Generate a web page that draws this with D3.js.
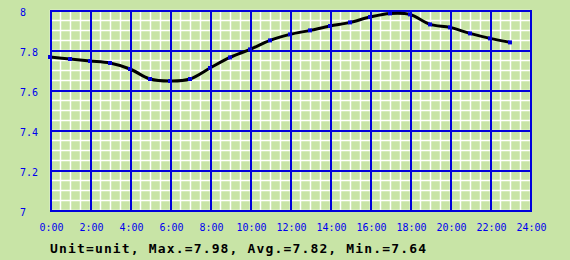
<!DOCTYPE html>
<html>
<head>
<meta charset="utf-8">
<script src="https://cdn.jsdelivr.net/npm/d3@7"></script>
<style>
  body { margin: 0; background: #c8e4a6; }
  svg { display: block; }
  .lbl { font-family: "DejaVu Sans Mono", monospace; font-size: 10px; fill: #0000ee; }
</style>
</head>
<body>
<svg id="chart" width="570" height="260"></svg>
<script>
// hourly readings, 0:00 .. 23:00
var hours = [0, 1, 2, 3, 4, 5, 6, 7, 8, 9, 10, 11, 12, 13, 14, 15, 16, 17, 18, 19, 20, 21, 22, 23];
var values = [7.765, 7.755, 7.745, 7.735, 7.705, 7.655, 7.645, 7.655, 7.71, 7.763, 7.803, 7.848, 7.878, 7.898,
              7.92, 7.938, 7.965, 7.983, 7.978, 7.928, 7.913, 7.883, 7.858, 7.838];
var xTicks = [0, 2, 4, 6, 8, 10, 12, 14, 16, 18, 20, 22, 24];
var yTicks = [7, 7.2, 7.4, 7.6, 7.8, 8];
var footer = "Unit=unit, Max.=7.98, Avg.=7.82, Min.=7.64";

var svg = d3.select("#chart");
var plotL = 50, plotR = 530, plotT = 10, plotB = 210;

var x = d3.scaleLinear().domain([0, 24]).range([plotL, plotR]);
var y = d3.scaleLinear().domain([7, 8]).range([plotB, plotT]);

// minor grid (white)
var g = svg.append("g");
g.selectAll(".vmin").data(d3.range(0, 24.01, 0.5)).enter().append("line")
    .attr("x1", function(d) { return Math.round(x(d)) + 0.5; })
    .attr("x2", function(d) { return Math.round(x(d)) + 0.5; })
    .attr("y1", plotT).attr("y2", plotB)
    .attr("stroke", "#fff").attr("stroke-width", 1.5);
g.selectAll(".hmin").data(d3.range(7, 8.001, 0.05)).enter().append("line")
    .attr("y1", function(d) { return Math.round(y(d)) + 0.5; })
    .attr("y2", function(d) { return Math.round(y(d)) + 0.5; })
    .attr("x1", plotL).attr("x2", plotR)
    .attr("stroke", "#fff").attr("stroke-width", 1.5);

// major grid (blue)
g.selectAll(".vmaj").data(xTicks).enter().append("line")
    .attr("x1", function(d) { return x(d) + 1; })
    .attr("x2", function(d) { return x(d) + 1; })
    .attr("y1", plotT).attr("y2", plotB + 2)
    .attr("stroke", "#0000dd").attr("stroke-width", 2);
g.selectAll(".hmaj").data(yTicks).enter().append("line")
    .attr("y1", function(d) { return y(d) + 1; })
    .attr("y2", function(d) { return y(d) + 1; })
    .attr("x1", plotL).attr("x2", plotR + 2)
    .attr("stroke", "#0000dd").attr("stroke-width", 2);

// y labels, left aligned
svg.selectAll(".ylbl").data(yTicks).enter().append("text")
    .attr("class", "lbl")
    .attr("x", 20)
    .attr("y", function(d) { return y(d) + 6; })
    .text(function(d) { return d3.format("")(+d.toFixed(1)); });

// x labels
var xAxis = d3.axisBottom(x).tickValues(xTicks).tickSize(0)
    .tickFormat(function(d) { return d + ":00"; });
var xa = svg.append("g").attr("transform", "translate(1," + 223 + ")").call(xAxis);
xa.select(".domain").remove();
xa.selectAll("text").attr("class", "lbl").attr("y", 0).attr("dy", "0.8em")
    .attr("fill", null);
xa.attr("font-size", null).attr("font-family", null);

// data line
var line = d3.line()
    .x(function(d, i) { return x(hours[i]); })
    .y(function(d) { return y(d); })
    .curve(d3.curveCardinal);
svg.append("path").datum(values)
    .attr("d", line)
    .attr("fill", "none").attr("stroke", "#000").attr("stroke-width", 3);

svg.selectAll(".pt").data(values).enter().append("rect")
    .attr("x", function(d, i) { return x(hours[i]) - 2; })
    .attr("y", function(d) { return y(d) - 2; })
    .attr("width", 4).attr("height", 4)
    .attr("fill", "#0000dd");

// footer
svg.append("text")
    .attr("x", 50).attr("y", 253)
    .attr("textLength", 376).attr("lengthAdjust", "spacing")
    .style("font-family", "'DejaVu Sans Mono', monospace")
    .style("font-size", "13px").style("font-weight", "bold")
    .text(footer);
</script>
</body>
</html>
